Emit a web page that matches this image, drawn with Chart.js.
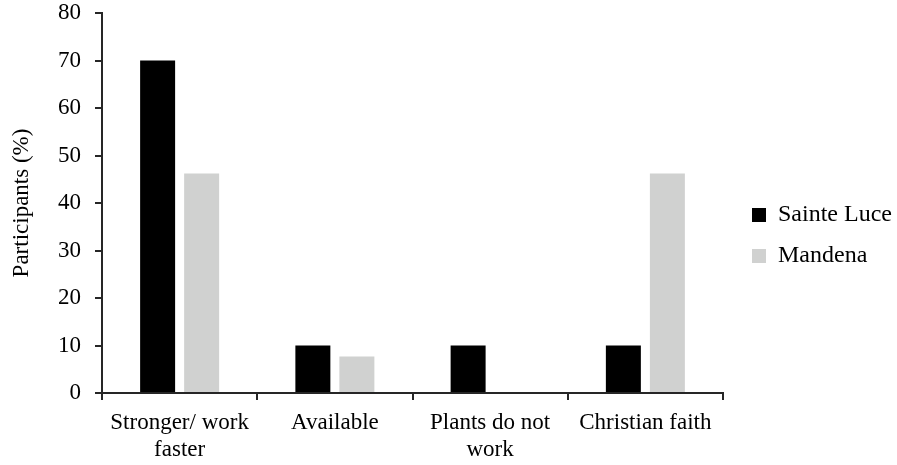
<!DOCTYPE html>
<html>
<head>
<meta charset="utf-8">
<script src="https://cdn.jsdelivr.net/npm/chart.js@4.4.1/dist/chart.umd.min.js"></script>
<style>
  html, body { margin: 0; padding: 0; background: #ffffff; }
  #wrap { width: 897px; height: 465px; position: relative; }
</style>
</head>
<body>
<div id="wrap"><canvas id="c"></canvas></div>
<script>
const categories = [["Stronger/ work", "faster"], "Available", ["Plants do not", "work"], "Christian faith"];
const seriesNames = ["Sainte Luce", "Mandena"];
const sainteLuce = [70, 10, 10, 10];
const mandena = [46.2, 7.7, 0, 46.2];
const yTicks = [0, 10, 20, 30, 40, 50, 60, 70, 80];
const yTitle = "Participants (%)";

const FONT = "'Liberation Serif', 'Times New Roman', serif";
const AXIS = "#262626";

const legendPlacer = {
  id: 'legendPlacer',
  beforeLayout(chart) {
    const lg = chart.legend;
    if (lg && !lg._patched) {
      const orig = lg.fit.bind(lg);
      lg.fit = function () { orig(); this.width = 174; };
      lg._patched = true;
    }
  },
  afterLayout(chart) {
    const lg = chart.legend;
    if (lg) { lg.left += 12; lg.right += 12; lg.top += 3; lg.bottom += 3; }
  }
};

new Chart(document.getElementById('c'), {
  type: 'bar',
  data: {
    labels: categories,
    datasets: [
      { label: seriesNames[0], data: sainteLuce, backgroundColor: '#000000', borderWidth: 0 },
      { label: seriesNames[1], data: mandena, backgroundColor: '#d0d1d0', borderWidth: 0 }
    ]
  },
  options: {
    responsive: true,
    maintainAspectRatio: false,
    animation: false,
    categoryPercentage: 0.567,
    barPercentage: 0.795,
    layout: { padding: { top: 0, right: 0, bottom: 0, left: 0 } },
    plugins: {
      tooltip: { enabled: false },
      legend: {
        position: 'right',
        align: 'center',
        labels: {
          color: '#000',
          font: { family: FONT, size: 24 },
          boxWidth: 14,
          boxHeight: 14,
          padding: 17
        }
      }
    },
    scales: {
      x: {
        offset: true,
        afterFit(s) { s.height = 72; },
        grid: { display: true, offset: true, drawOnChartArea: false, drawTicks: true, tickLength: 7, color: AXIS, lineWidth: 2 },
        border: { display: true, color: AXIS, width: 2 },
        ticks: { color: '#000', font: { family: FONT, size: 23, lineHeight: 1.2 }, autoSkip: false, maxRotation: 0, padding: 9 }
      },
      y: {
        min: yTicks[0],
        max: yTicks[yTicks.length - 1],
        afterFit(s) { s.width = 102; s.paddingTop = 13; s.paddingBottom = 0; },
        afterBuildTicks(s) { s.ticks = yTicks.map(v => ({ value: v })); },
        grid: { display: true, drawOnChartArea: false, drawTicks: true, tickLength: 7, color: AXIS, lineWidth: 2 },
        border: { display: true, color: AXIS, width: 2 },
        ticks: { color: '#000', font: { family: FONT, size: 23 }, padding: 14 },
        title: { display: true, text: yTitle, color: '#000', font: { family: FONT, size: 23 }, padding: { top: 8, bottom: 0 } }
      }
    }
  },
  plugins: [legendPlacer]
});
</script>
</body>
</html>
